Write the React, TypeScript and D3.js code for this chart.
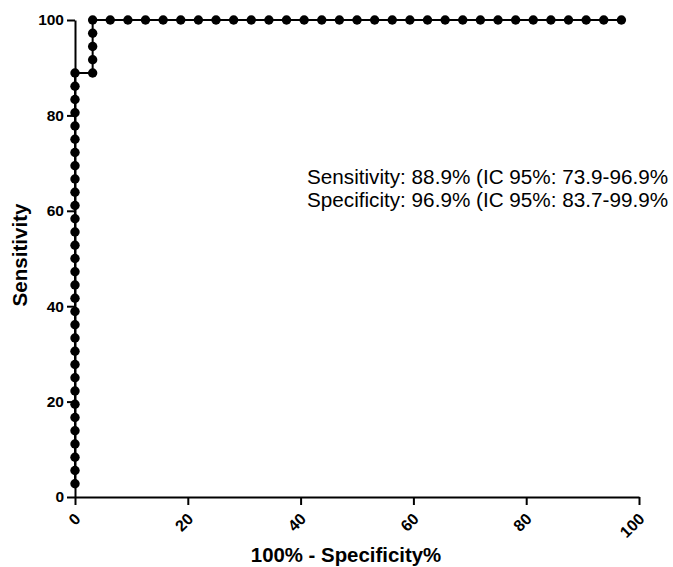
import { useEffect, useRef } from 'react'
import * as d3 from 'd3'

// ROC curve points (100% - specificity, sensitivity)
const falsePosRate = [
  0, 0, 0, 0, 0, 0, 0, 0, 0, 0, 0, 0, 0, 0, 0, 0,
  0, 0, 0, 0, 0, 0, 0, 0, 0, 0, 0, 0, 0, 0, 0, 0,
  3.13, 3.13, 3.13, 3.13, 3.13,
  6.25, 9.38, 12.5, 15.63, 18.75, 21.88, 25, 28.13, 31.25, 34.38,
  37.5, 40.63, 43.75, 46.88, 50, 53.13, 56.25, 59.38, 62.5, 65.63,
  68.75, 71.88, 75, 78.13, 81.25, 84.38, 87.5, 90.63, 93.75, 96.88,
]
const sensitivity = [
  2.78, 5.56, 8.33, 11.11, 13.89, 16.67, 19.44, 22.22, 25.0, 27.78, 30.56,
  33.33, 36.11, 38.89, 41.67, 44.44, 47.22, 50.0, 52.78, 55.56, 58.33, 61.11,
  63.89, 66.67, 69.44, 72.22, 75.0, 77.78, 80.56, 83.33, 86.11, 88.89,
  88.89, 91.67, 94.44, 97.22, 100,
  100, 100, 100, 100, 100, 100, 100, 100, 100, 100,
  100, 100, 100, 100, 100, 100, 100, 100, 100, 100,
  100, 100, 100, 100, 100, 100, 100, 100, 100, 100,
]
const xTicks = [0, 20, 40, 60, 80, 100]
const yTicks = [0, 20, 40, 60, 80, 100]
const notes = [
  'Sensitivity: 88.9% (IC 95%: 73.9-96.9%',
  'Specificity: 96.9% (IC 95%: 83.7-99.9%',
]

const FONT = '"Liberation Sans", Arial, sans-serif'

export default function App() {
  const svgRef = useRef<SVGSVGElement>(null)

  useEffect(() => {
    if (!svgRef.current) return
    const width = 673
    const height = 567

    d3.select(svgRef.current).selectAll('*').remove()
    const svg = d3.select(svgRef.current)
      .attr('width', width)
      .attr('height', height)

    const x = d3.scaleLinear().domain([0, 100]).range([75, 639])
    const y = d3.scaleLinear().domain([0, 100]).range([497, 20])

    const data = falsePosRate.map((fp, i) => ({ fp, se: sensitivity[i] }))

    // Axes
    const yAxis = svg.append('g')
      .attr('transform', `translate(${x(0)},0)`)
      .call(d3.axisLeft(y).tickValues(yTicks).tickSize(8).tickSizeOuter(0).tickPadding(3))
    yAxis.select('.domain').attr('stroke', '#000').attr('stroke-width', 2)
    yAxis.selectAll('.tick line').attr('stroke', '#000').attr('stroke-width', 2)
    yAxis.selectAll('.tick text')
      .attr('fill', '#000')
      .attr('font-family', FONT)
      .attr('font-weight', 'bold')
      .attr('font-size', 15.5)

    const xAxis = svg.append('g')
      .attr('transform', `translate(0,${y(0)})`)
      .call(d3.axisBottom(x).tickValues(xTicks).tickSize(8).tickSizeOuter(0))
    xAxis.select('.domain').attr('stroke', '#000').attr('stroke-width', 2)
    xAxis.selectAll('.tick line').attr('stroke', '#000').attr('stroke-width', 2)
    xAxis.selectAll('.tick text')
      .attr('fill', '#000')
      .attr('font-family', FONT)
      .attr('font-weight', 'bold')
      .attr('font-size', 16)
      .attr('text-anchor', 'end')
      .attr('dy', null)
      .attr('y', null)
      .attr('dominant-baseline', 'middle')
      .attr('transform', 'translate(3,20) rotate(-45)')

    // Curve
    const line = d3.line<{ fp: number; se: number }>()
      .x(d => x(d.fp))
      .y(d => y(d.se))
    svg.append('path')
      .datum(data)
      .attr('d', line)
      .attr('fill', 'none')
      .attr('stroke', '#000')
      .attr('stroke-width', 2)

    svg.selectAll('.dot')
      .data(data)
      .join('circle')
      .attr('class', 'dot')
      .attr('cx', d => x(d.fp))
      .attr('cy', d => y(d.se))
      .attr('r', 4.7)
      .attr('fill', '#000')

    // Axis titles
    svg.append('text')
      .attr('x', 346)
      .attr('y', 562)
      .attr('text-anchor', 'middle')
      .attr('font-family', FONT)
      .attr('font-weight', 'bold')
      .attr('font-size', 20.4)
      .attr('fill', '#000')
      .text('100% - Specificity%')

    svg.append('text')
      .attr('transform', 'translate(27,255) rotate(-90)')
      .attr('text-anchor', 'middle')
      .attr('font-family', FONT)
      .attr('font-weight', 'bold')
      .attr('font-size', 20.6)
      .attr('fill', '#000')
      .text('Sensitivity')

    // Annotation
    svg.selectAll('.note')
      .data(notes)
      .join('text')
      .attr('class', 'note')
      .attr('x', 307)
      .attr('y', (d, i) => 184 + i * 23)
      .attr('font-family', FONT)
      .attr('font-size', 20.7)
      .attr('fill', '#000')
      .text(d => d)
  }, [])

  return (
    <svg ref={svgRef} style={{ position: 'absolute', left: 0, top: 0, background: '#fff' }}></svg>
  )
}
